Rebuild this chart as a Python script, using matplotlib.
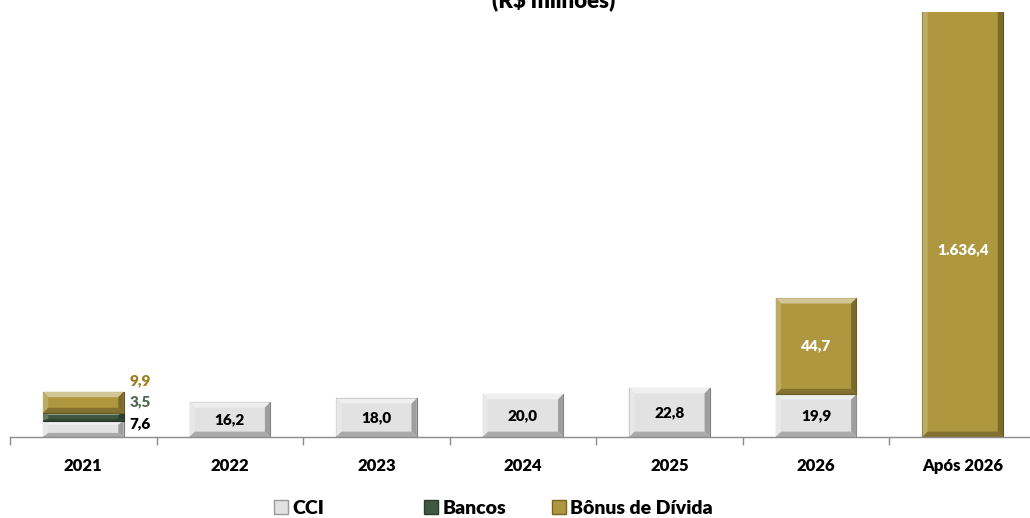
import numpy as np
import matplotlib.pyplot as plt
from matplotlib.patches import Polygon, Patch
import matplotlib.colors as mcolors

plt.rcParams['font.family'] = ['Lato', 'DejaVu Sans']
plt.rcParams['font.weight'] = 'heavy'

# data (R$ milhões)
anos = ['2021', '2022', '2023', '2024', '2025', '2026', 'Após 2026']
cci = [7.6, 16.2, 18.0, 20.0, 22.8, 19.9, 0.0]
bancos = [3.5, 0.0, 0.0, 0.0, 0.0, 0.0, 0.0]
bonus = [9.9, 0.0, 0.0, 0.0, 0.0, 44.7, 1636.4]
series = ['CCI', 'Bancos', 'Bônus de Dívida']

cor_cci = '#e2e2e2'
cor_bancos = '#3e5941'
cor_bonus = '#ae973e'


def shade(c, f):
    r, g, b = mcolors.to_rgb(c)
    if f > 0:
        return (r + (1 - r) * f, g + (1 - g) * f, b + (1 - b) * f)
    return (r * (1 + f), g * (1 + f), b * (1 + f))


def bevel_bar(ax, x, y0, h, w, color, ymax):
    # bar with a bevelled edge, Excel style
    if h <= 0:
        return
    x0, x1 = x - w / 2, x + w / 2
    y1 = y0 + h
    bx = 0.036
    by = min(2.5, h / 4)
    yt = min(y1, ymax + 10)
    ax.add_patch(Polygon([(x0, y0), (x1, y0), (x1, yt), (x0, yt)],
                         closed=True, fc=color, ec=shade(color, -0.45), lw=0.8))
    ax.add_patch(Polygon([(x0, yt), (x1, yt), (x1 - bx, yt - by), (x0 + bx, yt - by)],
                         closed=True, fc=shade(color, 0.45), ec='none'))
    ax.add_patch(Polygon([(x0, y0), (x0, yt), (x0 + bx, yt - by), (x0 + bx, y0 + by)],
                         closed=True, fc=shade(color, 0.2), ec='none'))
    ax.add_patch(Polygon([(x1, y0), (x1, yt), (x1 - bx, yt - by), (x1 - bx, y0 + by)],
                         closed=True, fc=shade(color, -0.3), ec='none'))
    ax.add_patch(Polygon([(x0, y0), (x1, y0), (x1 - bx, y0 + by), (x0 + bx, y0 + by)],
                         closed=True, fc=shade(color, -0.25), ec='none'))


fig = plt.figure(figsize=(10.30, 5.18), dpi=100)
ax = fig.add_axes([10 / 1030, 1 - 437 / 518, 1026 / 1030, 425 / 518])
ymax = 197.7
ax.set_xlim(-0.5, 6.5)
ax.set_ylim(0, ymax)

x = np.arange(len(anos))
w = 0.55
for i in x:
    bevel_bar(ax, i, 0, cci[i], w, cor_cci, ymax)
    bevel_bar(ax, i, cci[i], bancos[i], w, cor_bancos, ymax)
    bevel_bar(ax, i, cci[i] + bancos[i], bonus[i], w, cor_bonus, ymax)

fmt = lambda v: ('%.1f' % v).replace('.', ',') if v < 1000 else \
    '{:,.1f}'.format(v).replace(',', 'X').replace('.', ',').replace('X', '.')

# 2021 labels sit to the right of the bar
xl = x[0] + w / 2 + 0.04
ax.text(xl, cci[0] * 0.8, fmt(cci[0]), ha='left', va='center',
        fontsize=11, color='black')
ax.text(xl, cci[0] + bancos[0] + 5.2, fmt(bancos[0]), ha='left', va='center',
        fontsize=11, color='#4f6b4f')
ax.text(xl, cci[0] + bancos[0] + bonus[0] / 2 + 10, fmt(bonus[0]), ha='left', va='center',
        fontsize=11, color='#a07c1c')

for i in x[1:6]:
    ax.text(i, cci[i] / 2, fmt(cci[i]), ha='center', va='center', fontsize=11,
            color='black')
ax.text(x[5], cci[5] + bonus[5] / 2, fmt(bonus[5]), ha='center', va='center',
        fontsize=11, color='white')
ax.text(x[6], 87, fmt(bonus[6]), ha='center', va='center', fontsize=11,
        color='white')

for s in ['top', 'left', 'right']:
    ax.spines[s].set_visible(False)
ax.spines['bottom'].set_color('#8c8c8c')
ax.spines['bottom'].set_linewidth(1)
ax.set_yticks([])
ax.set_xticks(x)
ax.set_xticklabels(anos, fontsize=12, fontweight='heavy')
ax.tick_params(axis='x', which='major', length=0, pad=15)
ax.set_xticks(np.arange(-0.5, 7, 1), minor=True)
ax.tick_params(axis='x', which='minor', length=6, color='#8c8c8c', width=1)

fig.text(554 / 1030, 1 - 8 / 518, '(R$ milhões)', ha='center', va='baseline',
         fontsize=16, fontweight='heavy')

# legend entries placed one by one
cores = [(cor_cci, '#999999'), (cor_bancos, '#2a3d2c'), (cor_bonus, '#7a6520')]
leg_x = [274, 424, 552]
for nome, (fc, ec), lx in zip(series, cores, leg_x):
    lg = fig.legend([Patch(fc=fc, ec=ec)], [nome], loc='center left',
                    bbox_to_anchor=(lx / 1030, 1 - 508 / 518), frameon=False,
                    prop={'size': 14, 'weight': 'heavy'}, handlelength=0.7,
                    handleheight=0.7, handletextpad=0.25, borderpad=0, borderaxespad=0)

fig.savefig('out.png', dpi=100)
